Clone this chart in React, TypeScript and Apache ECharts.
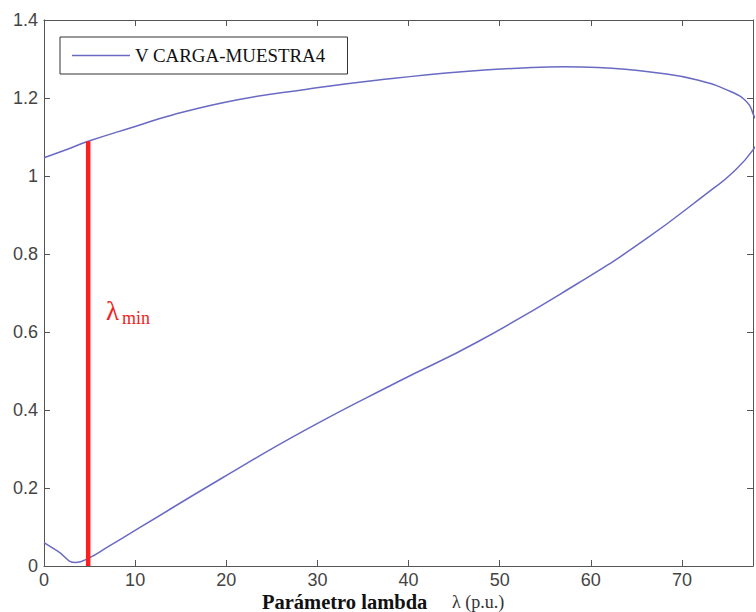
import React, { useEffect, useRef } from "react";
import * as echarts from "echarts";

// Traced load-voltage (PV / nose) curve: upper branch to the nose, then lower branch back
const curveLambda = [
  0, 2.5, 4.85, 10, 14, 21.4, 28.7, 36.7, 46.2, 53.5, 57, 60.8, 68.1, 71.7, 75.4, 77.2, 77.8,
  78.6,
  77.8, 75.4, 73.2, 65.9, 58.6, 47.6, 38.9, 28.7, 19.5, 10.4, 7, 4.9, 3.5, 1.5, 0,
];
const curveVoltage = [
  1.047, 1.068, 1.089, 1.127, 1.156, 1.196, 1.222, 1.246, 1.268, 1.278, 1.28, 1.278, 1.262, 1.246, 1.216, 1.188, 1.16,
  1.11,
  1.067, 1.005, 0.964, 0.836, 0.725, 0.575, 0.473, 0.349, 0.225, 0.097, 0.049, 0.02, 0.009, 0.038, 0.06,
];

// Minimum lambda marker
const lambdaMin = 4.85;
const lambdaMinVoltage = [0, 1.089];

const seriesName = "V CARGA-MUESTRA4";
const xTicks = { min: 0, max: 77.8, interval: 10 };
const yTicks = { min: 0, max: 1.4, interval: 0.2 };

export default function App() {
  const ref = useRef<HTMLDivElement>(null);

  useEffect(() => {
    if (!ref.current) return;
    const chart = echarts.init(ref.current, undefined, { renderer: "svg" });
    const frame = "#555555";
    const sans = "'Liberation Sans', Arial, Helvetica, sans-serif";
    const serif = "'Liberation Serif', 'Times New Roman', serif";

    const baseX = {
      type: "value" as const,
      min: xTicks.min,
      max: xTicks.max,
      interval: xTicks.interval,
      splitLine: { show: false },
      axisLine: { show: true, onZero: false, lineStyle: { color: frame, width: 1 } },
      axisTick: { show: true, inside: true, length: 6, lineStyle: { color: frame } },
    };
    const baseY = {
      type: "value" as const,
      min: yTicks.min,
      max: yTicks.max,
      interval: yTicks.interval,
      splitLine: { show: false },
      axisLine: { show: true, onZero: false, lineStyle: { color: frame, width: 1 } },
      axisTick: { show: true, inside: true, length: 6, lineStyle: { color: frame } },
    };

    chart.setOption({
      animation: false,
      backgroundColor: "#ffffff",
      grid: { left: 44, top: 20, width: 711, height: 546, containLabel: false },
      legend: {
        data: [{ name: seriesName, icon: "rect" }],
        left: 60,
        top: 37,
        padding: [9, 22, 9, 12],
        itemWidth: 58,
        itemHeight: 1.5,
        borderColor: "#333333",
        borderWidth: 1,
        backgroundColor: "#ffffff",
        textStyle: { fontFamily: serif, fontSize: 18.9, color: "#111111" },
      },
      xAxis: [
        {
          ...baseX,
          position: "bottom",
          axisLabel: {
            fontFamily: sans,
            fontSize: 18,
            color: "#444444",
            margin: 5,
            formatter: (v: number) => (v % 10 === 0 ? String(v) : ""),
          },
        },
        { ...baseX, position: "top", axisLabel: { show: false } },
      ],
      yAxis: [
        {
          ...baseY,
          position: "left",
          axisLabel: { fontFamily: sans, fontSize: 18, color: "#444444", margin: 6 },
        },
        { ...baseY, position: "right", axisLabel: { show: false } },
      ],
      series: [
        {
          name: seriesName,
          type: "line",
          xAxisIndex: 0,
          yAxisIndex: 0,
          symbol: "none",
          smooth: 0.5,
          clip: true,
          data: curveLambda.map((l, i) => [l, curveVoltage[i]]),
          lineStyle: { color: "#6a6ac4", width: 1.5 },
          itemStyle: { color: "#6a6ac4" },
        },
        {
          name: "lambda min",
          type: "line",
          xAxisIndex: 0,
          yAxisIndex: 0,
          symbol: "none",
          clip: false,
          data: lambdaMinVoltage.map((v) => [lambdaMin, v]),
          lineStyle: { color: "#ff1e1e", width: 4.5 },
          itemStyle: { color: "#ff1e1e" },
        },
      ],
      graphic: [
        {
          type: "text",
          left: 106,
          top: 297,
          style: { text: "λ", font: `27px ${serif}`, fill: "#ee2222" },
        },
        {
          type: "text",
          left: 122,
          top: 309,
          style: { text: "min", font: `18px ${serif}`, fill: "#ee2222" },
        },
        {
          type: "text",
          left: 262,
          top: 591,
          style: { text: "Parámetro lambda", font: `bold 20.5px ${serif}`, fill: "#111111" },
        },
        {
          type: "text",
          left: 452,
          top: 593,
          style: { text: "λ (p.u.)", font: `18px ${serif}`, fill: "#333333" },
        },
      ],
    });

    return () => chart.dispose();
  }, []);

  return (
    <div
      ref={ref}
      style={{ position: "fixed", left: 0, top: 0, width: 756, height: 612, background: "#fff" }}
    />
  );
}
